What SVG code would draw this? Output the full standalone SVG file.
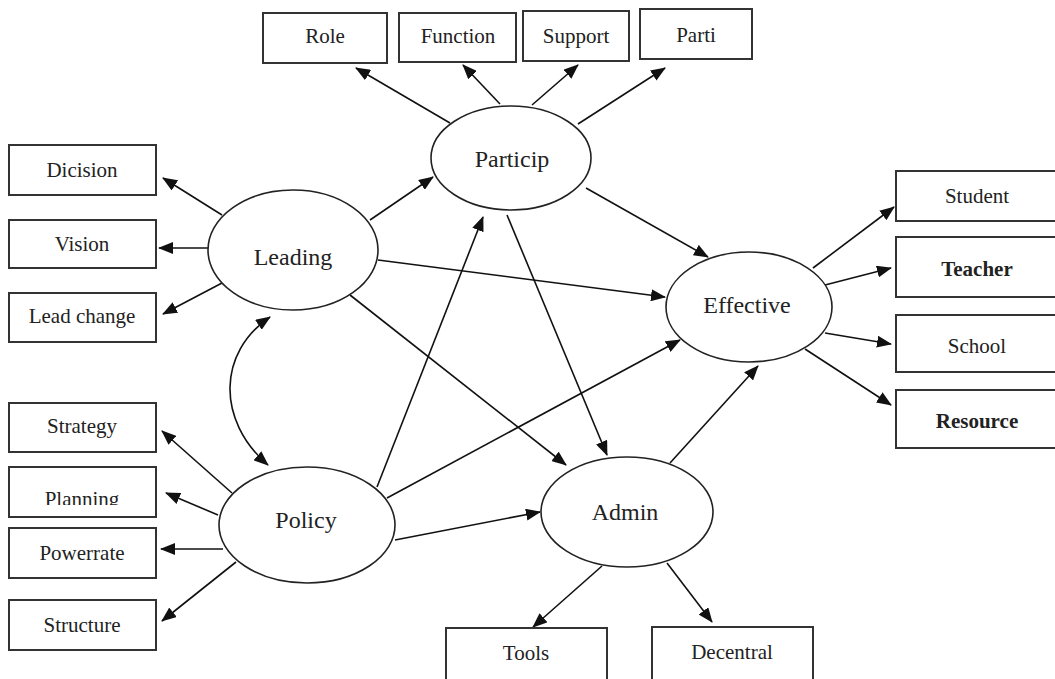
<svg xmlns="http://www.w3.org/2000/svg" width="1055" height="679" viewBox="0 0 1055 679">
<style>
.box{fill:#fff;stroke:#333;stroke-width:2}
.ell{fill:#fff;stroke:#222;stroke-width:1.6}
.bt{font-family:"Liberation Serif",serif;font-size:21px;fill:#222;text-anchor:middle}
.et{font-family:"Liberation Serif",serif;font-size:24px;fill:#222;text-anchor:middle}
.b{font-weight:bold}
.c{fill:none;stroke:#111;stroke-width:1.6;marker-end:url(#ah)}
</style>
<defs>
<marker id="ah" markerUnits="userSpaceOnUse" markerWidth="16" markerHeight="12" refX="14" refY="6" orient="auto-start-reverse">
<path d="M0,0 L15,6 L0,12 Z" fill="#111"/>
</marker>
<clipPath id="clipPlan"><rect x="0" y="460" width="200" height="45"/></clipPath>
</defs>
<rect width="1055" height="679" fill="#fff"/>
<g id="connectors">
<line class="c" x1="450" y1="123" x2="356" y2="68"/>
<line class="c" x1="500" y1="104" x2="463" y2="65"/>
<line class="c" x1="532" y1="105" x2="578" y2="65"/>
<line class="c" x1="578" y1="124" x2="665" y2="68"/>
<line class="c" x1="222" y1="215" x2="163" y2="178"/>
<line class="c" x1="208" y1="248" x2="159" y2="248"/>
<line class="c" x1="222" y1="283" x2="163" y2="314"/>
<line class="c" x1="232" y1="493" x2="162" y2="431"/>
<line class="c" x1="218" y1="515" x2="166" y2="493"/>
<line class="c" x1="223" y1="549" x2="161" y2="549"/>
<line class="c" x1="236" y1="562" x2="162" y2="621"/>
<path class="c" d="M270,317 C218,352 216,420 268,465" marker-start="url(#ah)"/>
<line class="c" x1="602" y1="566" x2="533" y2="627"/>
<line class="c" x1="667" y1="563" x2="712" y2="622"/>
<line class="c" x1="395" y1="540" x2="540" y2="512"/>
<line class="c" x1="813" y1="268" x2="894" y2="207"/>
<line class="c" x1="825" y1="285" x2="891" y2="268"/>
<line class="c" x1="825" y1="333" x2="891" y2="344"/>
<line class="c" x1="805" y1="349" x2="891" y2="405"/>
<line class="c" x1="507" y1="215" x2="607" y2="455"/>
<line class="c" x1="377" y1="487" x2="483" y2="217"/>
<line class="c" x1="378" y1="260" x2="665" y2="297"/>
<line class="c" x1="350" y1="295" x2="566" y2="465"/>
<line class="c" x1="387" y1="498" x2="680" y2="340"/>
<line class="c" x1="586" y1="188" x2="708" y2="257"/>
<line class="c" x1="370" y1="220" x2="433" y2="177"/>
<line class="c" x1="670" y1="463" x2="758" y2="366"/>
</g>
<g id="role"><rect class="box" x="263" y="13" width="124" height="50"/><text class="bt" x="325" y="43">Role</text></g>
<g id="function"><rect class="box" x="399" y="13" width="117" height="49"/><text class="bt" x="458" y="43">Function</text></g>
<g id="support"><rect class="box" x="523" y="11" width="106" height="50"/><text class="bt" x="576" y="43">Support</text></g>
<g id="parti"><rect class="box" x="640" y="9" width="112" height="50"/><text class="bt" x="696" y="42">Parti</text></g>
<g id="dicision"><rect class="box" x="9" y="145" width="147" height="50"/><text class="bt" x="82" y="177">Dicision</text></g>
<g id="vision"><rect class="box" x="9" y="220" width="147" height="48"/><text class="bt" x="82" y="251">Vision</text></g>
<g id="leadchange"><rect class="box" x="9" y="293" width="147" height="49"/><text class="bt" x="82" y="323">Lead change</text></g>
<g id="strategy"><rect class="box" x="9" y="403" width="147" height="49"/><text class="bt" x="82" y="433">Strategy</text></g>
<g id="planning"><rect class="box" x="9" y="467" width="147" height="50"/><text class="bt" x="82" y="506" clip-path="url(#clipPlan)">Planning</text></g>
<g id="powerrate"><rect class="box" x="9" y="528" width="147" height="50"/><text class="bt" x="82" y="560">Powerrate</text></g>
<g id="structure"><rect class="box" x="9" y="600" width="147" height="50"/><text class="bt" x="82" y="632">Structure</text></g>
<g id="tools"><rect class="box" x="446" y="628" width="161" height="52"/><text class="bt" x="526" y="660">Tools</text></g>
<g id="decentral"><rect class="box" x="652" y="627" width="161" height="53"/><text class="bt" x="732" y="659">Decentral</text></g>
<g id="student"><rect class="box" x="896" y="171" width="160" height="50"/><text class="bt" x="977" y="203">Student</text></g>
<g id="teacher"><rect class="box" x="896" y="237" width="160" height="60"/><text class="bt b" x="977" y="276">Teacher</text></g>
<g id="school"><rect class="box" x="896" y="315" width="160" height="57"/><text class="bt" x="977" y="353">School</text></g>
<g id="resource"><rect class="box" x="896" y="390" width="160" height="58"/><text class="bt b" x="977" y="428">Resource</text></g>
<g id="particip"><ellipse class="ell" cx="511" cy="158" rx="80" ry="52"/><text class="et" x="512" y="167">Particip</text></g>
<g id="leading"><ellipse class="ell" cx="293" cy="250" rx="85" ry="60"/><text class="et" x="293" y="265">Leading</text></g>
<g id="policy"><ellipse class="ell" cx="307" cy="525" rx="88" ry="58"/><text class="et" x="306" y="528">Policy</text></g>
<g id="admin"><ellipse class="ell" cx="627" cy="512" rx="86" ry="55"/><text class="et" x="625" y="520">Admin</text></g>
<g id="effective"><ellipse class="ell" cx="749" cy="307" rx="83" ry="55"/><text class="et" x="747" y="313">Effective</text></g>
</svg>
